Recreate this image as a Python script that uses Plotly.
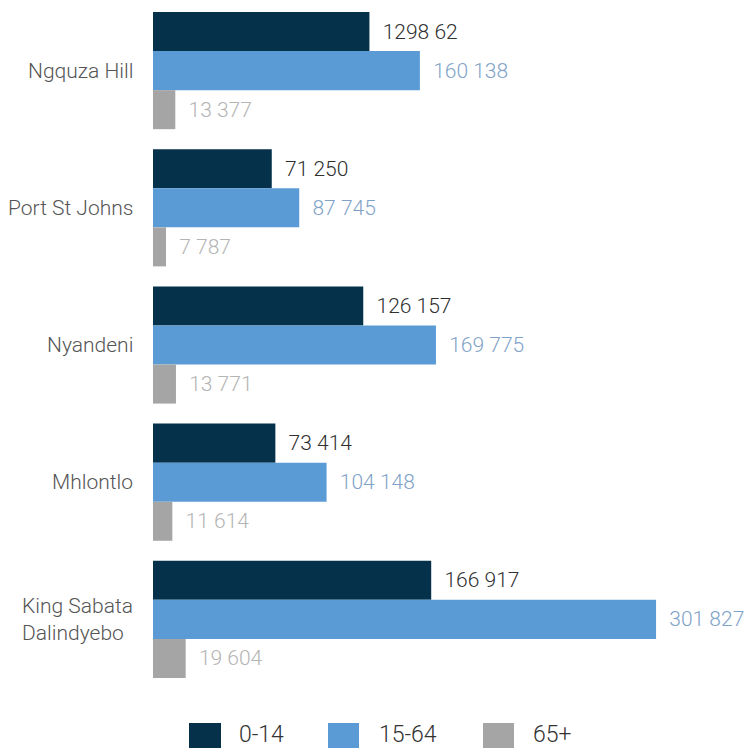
import plotly.graph_objects as go

# Municipalities (top to bottom) and population by age group
municipalities = ["Ngquza Hill", "Port St Johns", "Nyandeni", "Mhlontlo",
                  "King Sabata<br>Dalindyebo"]
age_groups = ["0-14", "15-64", "65+"]
pop_0_14 = [129862, 71250, 126157, 73414, 166917]
pop_15_64 = [160138, 87745, 169775, 104148, 301827]
pop_65_plus = [13377, 7787, 13771, 11614, 19604]
labels_0_14 = ["1298 62", "71 250", "126 157", "73 414", "166 917"]
labels_15_64 = ["160 138", "87 745", "169 775", "104 148", "301 827"]
labels_65_plus = ["13 377", "7 787", "13 771", "11 614", "19 604"]

bar_colors = ["#05314b", "#5b9bd5", "#a5a5a5"]
text_colors = ["#303030", "#7fa3c8", "#b4b4b4"]
FONT = "Roboto, Open Sans, sans-serif"

W, H = 749, 748
ML, MR, MT, MB = 153, 0, 2, 60
PW, PH = W - ML - MR, H - MT - MB

fig = go.Figure()
series = [(pop_0_14, labels_0_14), (pop_15_64, labels_15_64),
          (pop_65_plus, labels_65_plus)]
for i, (vals, labs) in enumerate(series):
    fig.add_trace(go.Bar(
        y=municipalities, x=vals, orientation="h", name=age_groups[i],
        marker=dict(color=bar_colors[i], line=dict(width=0)),
        text=["\u00a0\u00a0" + t for t in labs],
        textposition="outside", cliponaxis=False, constraintext="none",
        textfont=dict(family=FONT, size=21, color=text_colors[i], weight=300),
        showlegend=False, hoverinfo="skip",
    ))

# Category labels, drawn left of the bars
for name in municipalities:
    fig.add_annotation(
        x=0, xref="paper", y=name, yref="y", text=name, showarrow=False,
        xanchor="right", xshift=-18, align="left",
        font=dict(family=FONT, size=21, color="#555555", weight=300),
    )

# Legend row below the plot
def px_x(p):
    return (p - ML) / PW

def px_y(p):
    return (MT + PH - p) / PH

legend_boxes = [(189, 221, 237), (328, 359, 377), (483, 514, 531)]
for i, (x0, x1, tx) in enumerate(legend_boxes):
    fig.add_shape(type="rect", xref="paper", yref="paper",
                  x0=px_x(x0), x1=px_x(x1), y0=px_y(723), y1=px_y(755),
                  fillcolor=bar_colors[i], line=dict(width=0))
    fig.add_annotation(
        x=px_x(tx), xref="paper", y=px_y(734), yref="paper",
        text=age_groups[i], showarrow=False, xanchor="left", yanchor="middle",
        font=dict(family=FONT, size=23, color="#333333", weight=300),
    )

fig.update_layout(
    width=W, height=H,
    margin=dict(l=ML, r=MR, t=MT, b=MB, pad=0),
    barmode="group", bargap=0.146, bargroupgap=0,
    plot_bgcolor="white", paper_bgcolor="white",
    xaxis=dict(range=[0, 357600], visible=False, fixedrange=True),
    yaxis=dict(autorange="reversed", showticklabels=False, showgrid=False,
               zeroline=False, showline=False, ticks="", fixedrange=True),
)

fig.write_html("out.html")
